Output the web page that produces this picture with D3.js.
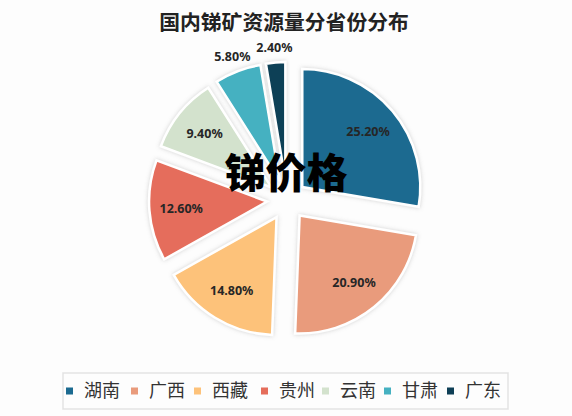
<!DOCTYPE html>
<html>
<head>
<meta charset="utf-8">
<script src="https://cdn.jsdelivr.net/npm/d3@7"></script>
<style>
  body { margin: 0; background: #fdfdfd; }
  svg { display: block; }
</style>
</head>
<body>
<script>
const provinces = ["湖南", "广西", "西藏", "贵州", "云南", "甘肃", "广东"];
const shares = [25.2, 20.9, 14.8, 12.6, 9.4, 5.8, 2.4];
const colors = ["#1b6a90", "#e99b7c", "#fdc27a", "#e56d5b", "#d3e2cd", "#45b1c1", "#0e3f56"];

const width = 572, height = 416;
const cx = 287, cy = 200, radius = 118, explode = 20;

const svg = d3.select("body").append("svg")
  .attr("width", width)
  .attr("height", height);

const defs = svg.append("defs");
const shadow = defs.append("filter").attr("id", "shadow")
  .attr("x", "-20%").attr("y", "-20%").attr("width", "140%").attr("height", "140%");
shadow.append("feDropShadow")
  .attr("dx", 0).attr("dy", 0).attr("stdDeviation", 2)
  .attr("flood-color", "#999").attr("flood-opacity", 0.45);

svg.append("text")
  .attr("x", 284)
  .attr("y", 30)
  .attr("text-anchor", "middle")
  .style("font-family", "'Noto Sans CJK SC', sans-serif")
  .style("font-weight", "bold")
  .style("font-size", "20.8px")
  .style("fill", "#222")
  .text("国内锑矿资源量分省份分布");

const data = provinces.map((p, i) => ({name: p, value: shares[i], color: colors[i]}));

const pie = d3.pie().value(d => d.value).sort(null);
const arc = d3.arc().innerRadius(0).outerRadius(radius);
const arcs = pie(data);

const g = svg.append("g").attr("transform", "translate(" + cx + "," + cy + ")");

function shift(d, r) {
  const a = (d.startAngle + d.endAngle) / 2;
  return [Math.sin(a) * r, -Math.cos(a) * r];
}

const slice = g.selectAll(".slice")
  .data(arcs)
  .enter().append("g")
  .attr("class", "slice")
  .attr("transform", d => "translate(" + shift(d, explode) + ")");

slice.append("path")
  .attr("d", arc)
  .attr("fill", d => d.data.color)
  .attr("stroke", "#fff")
  .attr("stroke-width", 2.5)
  .attr("filter", "url(#shadow)");

// labels: inside for big slices, outside for the two small ones
g.selectAll(".label")
  .data(arcs)
  .enter().append("text")
  .attr("class", "label")
  .attr("transform", d => {
    const outside = d.data.value < 7;
    const p = outside ? shift(d, 153) : shift(d, explode + radius * 0.73);
    return "translate(" + p + ")";
  })
  .attr("dy", "0.35em")
  .attr("text-anchor", "middle")
  .style("font-family", "'Noto Sans', 'DejaVu Sans', sans-serif")
  .style("font-weight", "bold")
  .style("font-size", "12.5px")
  .style("fill", "#262626")
  .text(d => d.data.value.toFixed(2) + "%");

// watermark
svg.append("text")
  .attr("x", 286)
  .attr("y", 188)
  .attr("text-anchor", "middle")
  .style("font-family", "'Noto Sans CJK SC', sans-serif")
  .style("font-weight", "900")
  .style("font-size", "41px")
  .style("fill", "#000")
  .text("锑价格");

// legend
const legendX = [66, 131, 194, 261, 322, 384, 447];
svg.append("rect")
  .attr("x", 63).attr("y", 373)
  .attr("width", 445).attr("height", 36)
  .attr("fill", "none")
  .attr("stroke", "#e3e3e3")
  .attr("stroke-width", 1.5);

const item = svg.selectAll(".legend")
  .data(data)
  .enter().append("g")
  .attr("class", "legend")
  .attr("transform", (d, i) => "translate(" + legendX[i] + ",391)");

item.append("rect")
  .attr("x", 0).attr("y", -3.5)
  .attr("width", 7).attr("height", 7)
  .attr("fill", d => d.color);

item.append("text")
  .attr("x", 18)
  .attr("dy", "0.36em")
  .style("font-family", "'Noto Sans CJK SC', sans-serif")
  .style("font-size", "18px")
  .style("fill", "#333")
  .text(d => d.name);
</script>
</body>
</html>
